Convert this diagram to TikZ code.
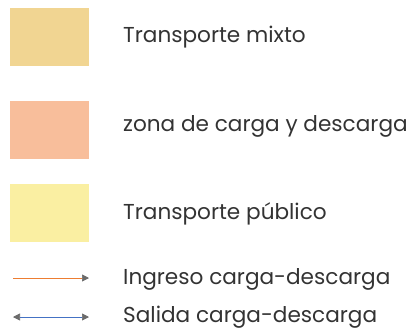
\documentclass[tikz,border=0pt]{standalone}
\usepackage{fontspec}
\setmainfont{Poppins}
\usetikzlibrary{arrows.meta}
\definecolor{mixto}{HTML}{F1D592}
\definecolor{zona}{HTML}{F8BE9B}
\definecolor{publico}{HTML}{FAEFA2}
\definecolor{txt}{HTML}{333333}
\definecolor{ingreso}{HTML}{ED7D31}
\definecolor{salida}{HTML}{4472C4}
\definecolor{tip}{HTML}{6B6B6B}
\begin{document}
\begin{tikzpicture}[x=1pt,y=-1pt,
  swatch/.style={minimum width=79pt,minimum height=58pt,inner sep=0pt,draw=none},
  label/.style={anchor=west,inner sep=0pt,text=txt,font=\fontsize{21.6}{24}\selectfont}]
\useasboundingbox (0,0) rectangle (419,330);
\node[swatch,fill=mixto] (s1) at (49.5,37) {};
\node[swatch,fill=zona] (s2) at (49.5,130) {};
\node[swatch,fill=publico] (s3) at (49.5,213) {};
\node[label] (t1) at (123,37) {Transporte mixto};
\node[label] (t2) at (123,126) {zona de carga y descarga};
\node[label] (t3) at (123,214) {Transporte público};
\node[label] (t4) at (123,279) {Ingreso carga-descarga};
\node[label] (t5) at (123,317) {Salida carga-descarga};
\coordinate (a1s) at (13,278); \coordinate (a1e) at (89,278);
\coordinate (a2s) at (13,317); \coordinate (a2e) at (89,317);
\draw[ingreso,line width=0.7pt,-{Triangle[length=7pt,width=7pt,fill=tip,color=tip]}] (a1s) -- (a1e);
\draw[salida,line width=0.7pt,{Triangle[length=7pt,width=7pt,fill=tip,color=tip]}-{Triangle[length=7pt,width=7pt,fill=tip,color=tip]}] (a2s) -- (a2e);
\end{tikzpicture}
\end{document}
